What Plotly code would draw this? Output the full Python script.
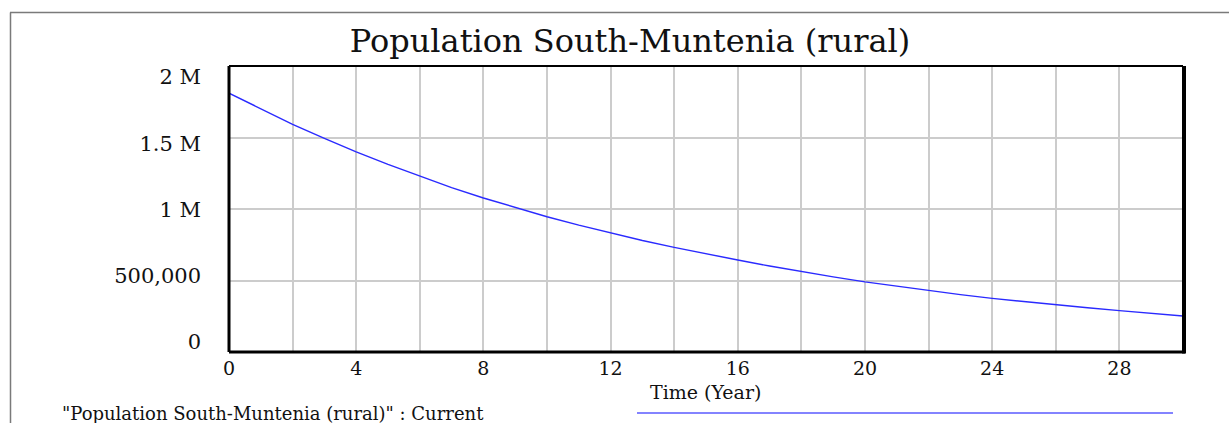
import plotly.graph_objects as go

# Data
years = list(range(0, 31))
population = [1810000, 1700000, 1592000, 1494000, 1400000, 1312000, 1230000, 1150000,
              1077000, 1010000, 946000, 887000, 832000, 780000, 732000, 686000,
              643000, 601000, 562000, 525000, 490000, 459000, 430000, 401000,
              375000, 352000, 330000, 309000, 289000, 270000, 252000]

x_tick_vals = [0, 4, 8, 12, 16, 20, 24, 28]
y_tick_vals = [0, 500000, 1000000, 1500000, 2000000]
y_tick_text = ["0", "500,000", "1 M", "1.5 M", "2 M"]

title_text = "Population South-Muntenia (rural)"
x_title = "Time (Year)"
legend_text = "\"Population South-Muntenia (rural)\" : Current"

W, H = 1229, 423
L, R, T, B = 229, 1183, 66, 352
pw, ph = R - L, B - T

def px(xp):
    return (xp - L) / pw

def py(yp):
    return (B - yp) / ph

FONT = "DejaVu Serif"
GRID = "#cccccc"
TXT = "#111111"

fig = go.Figure()
fig.add_trace(go.Scatter(x=years, y=population, mode="lines",
                         line=dict(color="#2a2aff", width=1.4),
                         showlegend=False, hoverinfo="skip"))
fig.add_trace(go.Scatter(x=[None], y=[None], yaxis="y2", mode="lines",
                         showlegend=False, hoverinfo="skip"))

fig.update_layout(
    width=W, height=H,
    margin=dict(l=L, r=W - R, t=T, b=H - B, autoexpand=False),
    paper_bgcolor="white", plot_bgcolor="white",
    font=dict(family=FONT, color=TXT),
    title=dict(text=title_text, x=630 / W, xanchor="center", xref="container",
               y=1 - 41 / H, yanchor="middle", yref="container",
               font=dict(family=FONT, size=32, color=TXT)),
    xaxis=dict(range=[0, 30], tickvals=x_tick_vals, showgrid=True, gridcolor=GRID, gridwidth=2,
               minor=dict(dtick=2, tick0=0, showgrid=True, gridcolor=GRID, gridwidth=2),
               zeroline=False, showline=False, ticks="", ticklabelstandoff=3,
               tickfont=dict(family=FONT, size=19, color=TXT)),
    yaxis=dict(range=[0, 2000000], tickvals=y_tick_vals, showticklabels=False,
               showgrid=True, gridcolor=GRID, gridwidth=2, zeroline=False, showline=False),
    yaxis2=dict(overlaying="y", side="left", range=[-75500, 2083000],
                tickvals=y_tick_vals, ticktext=y_tick_text, showgrid=False, zeroline=False,
                showline=False, ticks="", ticklabelstandoff=27,
                tickfont=dict(family=FONT, size=21, color=TXT)),
)

shapes = []
# outer gray frame
shapes.append(dict(type="line", xref="paper", yref="paper", x0=px(10), x1=px(1229), y0=py(12.5), y1=py(12.5),
                   line=dict(color="#7a7a7a", width=1.5)))
shapes.append(dict(type="line", xref="paper", yref="paper", x0=px(10.5), x1=px(10.5), y0=py(12.5), y1=py(423),
                   line=dict(color="#7a7a7a", width=1.5)))
# plot frame
shapes.append(dict(type="line", xref="paper", yref="paper", x0=0, x1=1, y0=1, y1=1,
                   line=dict(color="black", width=2)))
shapes.append(dict(type="line", xref="paper", yref="paper", x0=0, x1=0, y0=0, y1=1,
                   line=dict(color="black", width=3)))
shapes.append(dict(type="line", xref="paper", yref="paper", x0=0, x1=px(R + 2), y0=0, y1=0,
                   line=dict(color="black", width=3)))
shapes.append(dict(type="line", xref="paper", yref="paper", x0=px(R + 1), x1=px(R + 1), y0=py(B + 1.5), y1=1,
                   line=dict(color="black", width=4)))
# legend line
shapes.append(dict(type="line", xref="paper", yref="paper", x0=px(637), x1=px(1173), y0=py(413), y1=py(413),
                   line=dict(color="#5a5aff", width=1.5)))
fig.update_layout(shapes=shapes)

fig.add_annotation(text=x_title, xref="paper", yref="paper", x=px(705), y=py(392),
                   xanchor="center", yanchor="middle", showarrow=False,
                   font=dict(family=FONT, size=19, color=TXT))
fig.add_annotation(text=legend_text, xref="paper", yref="paper", x=px(60), y=py(413),
                   xanchor="left", yanchor="middle", showarrow=False,
                   font=dict(family=FONT, size=18, color=TXT))

fig.write_html("out.html", config={"displayModeBar": False},
               post_script="document.body.style.margin='0';document.body.style.overflow='hidden';")
